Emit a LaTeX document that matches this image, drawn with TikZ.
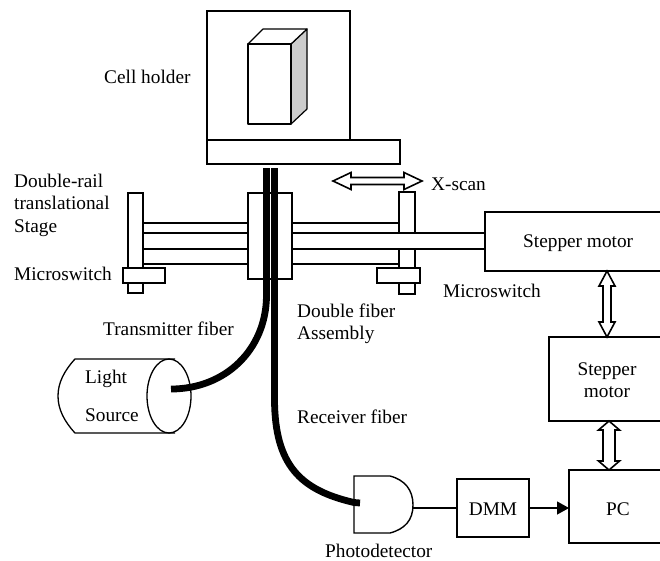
\documentclass[tikz,border=0pt]{standalone}
\usepackage{fontspec}
\setmainfont{Liberation Serif}
\usetikzlibrary{calc,arrows.meta}
\tikzset{
  box/.style={draw=black,fill=white,line width=1.5pt,inner sep=0pt,outer sep=0pt},
  lab/.style={anchor=base west,inner sep=0pt,font=\fontsize{19.3}{22}\selectfont},
  clab/.style={anchor=base,inner sep=0pt,font=\fontsize{19.3}{22}\selectfont,align=center},
  rail/.style={line width=1.4pt},
  fiber/.style={line width=6.8pt,line cap=butt},
  arw/.style={draw=black,fill=white,line width=1.6pt,line join=miter}
}
% box by corners (name, x1, y1, x2, y2)
\newcommand{\bx}[5]{\node[box,minimum width={(#4-#2)*1pt},minimum height={(#5-#3)*1pt}] (#1) at ({(#2+#4)/2},{(#3+#5)/2}) {};}
% vertical double arrow: from, to, half shaft, half head, head length
\newcommand{\vdarrow}[5]{\path[arw] let \p1=#1, \p2=#2 in
 (\x1,\y1) -- ({\x1+#4},{\y1-#5}) -- ({\x1+#3},{\y1-#5}) -- ({\x1+#3},{\y2+#5}) -- ({\x1+#4},{\y2+#5}) -- (\x2,\y2)
 -- ({\x1-#4},{\y2+#5}) -- ({\x1-#3},{\y2+#5}) -- ({\x1-#3},{\y1-#5}) -- ({\x1-#4},{\y1-#5}) -- cycle;}
\newcommand{\hdarrow}[5]{\path[arw] let \p1=#1, \p2=#2 in
 (\x1,\y1) -- ({\x1+#5},{\y1+#4}) -- ({\x1+#5},{\y1+#3}) -- ({\x2-#5},{\y1+#3}) -- ({\x2-#5},{\y1+#4}) -- (\x2,\y2)
 -- ({\x2-#5},{\y1-#4}) -- ({\x2-#5},{\y1-#3}) -- ({\x1+#5},{\y1-#3}) -- ({\x1+#5},{\y1-#4}) -- cycle;}
\begin{document}
\begin{tikzpicture}[x=1pt,y=-1pt]
\useasboundingbox (0,0) rectangle (660,560);
\clip (0,0) rectangle (660,560);
% cell holder
\bx{holder}{207}{11}{350}{140}
\bx{base}{207}{140}{400}{164}
\coordinate (fa) at (248,44); \coordinate (fb) at (291,44);
\coordinate (fc) at (291,124); \coordinate (fd) at (248,124);
\coordinate (ta) at (263,29); \coordinate (tb) at (307,29); \coordinate (tc) at (307,109);
\filldraw[fill=black!20,line width=1.2pt,line join=round] (fb) -- (tb) -- (tc) -- (fc) -- cycle;
\filldraw[fill=white,line width=1.2pt,line join=round] (fa) -- (ta) -- (tb) -- (fb) -- cycle;
\filldraw[fill=white,line width=1.5pt,line join=round] (fa) -- (fb) -- (fc) -- (fd) -- cycle;
% stage
\bx{lpost}{128}{193}{143}{293}
\bx{rpost}{399}{192}{415}{294}
\coordinate (blockE) at (292,236);
\coordinate (motorW) at (485,241);
\fill[white] (blockE |- 0,233) rectangle (motorW |- 0,249);
\draw[rail] (blockE |- 0,233) -- (motorW |- 0,233);
\draw[rail] (blockE |- 0,249) -- (motorW |- 0,249);
\bx{block}{248}{193}{292}{279}
\bx{motor}{485}{212}{670}{271}
\bx{lsw}{123}{268}{165}{283}
\bx{rsw}{377}{268}{420}{283}
\draw[rail] (lpost.east |- 0,223) -- (block.west |- 0,223);
\draw[rail] (lpost.east |- 0,233) -- (block.west |- 0,233);
\draw[rail] (lpost.east |- 0,249) -- (block.west |- 0,249);
\draw[rail] (lpost.east |- 0,264) -- (block.west |- 0,264);
\draw[rail] (block.east |- 0,223) -- (rpost.west |- 0,223);
\draw[rail] (block.east |- 0,264) -- (rpost.west |- 0,264);
% other blocks
\bx{stepper}{549}{337}{670}{421}
\bx{pc}{569}{470}{670}{543}
\bx{dmm}{457}{479}{529}{537}
% light source
\coordinate (srcT) at (175,359); \coordinate (srcB) at (175,433);
\draw[line width=1.3pt] (srcT) -- (75,359) .. controls (64,371) and (58,383) .. (58,396) .. controls (58,409) and (64,421) .. (75,433) -- (srcB);
\coordinate (src) at (169,396);
\draw[line width=1.3pt] (src) ellipse [x radius=22,y radius=37];
% photodetector
\coordinate (pdA) at (390,476); \coordinate (pdB) at (390,533);
\draw[line width=1.4pt,fill=white] (pdA) -- (354,476) -- (354,533) -- (pdB) .. controls (405,529) and (413,520) .. (413,505) .. controls (413,490) and (405,480) .. (pdA) -- cycle;
\coordinate (pdOut) at (413,508);
\coordinate (pdIn) at (360,503);
% fibers
\coordinate (fibT) at (266.5,168);
\coordinate (fibR) at (274.5,168);
\coordinate (srcEnd) at (171,389);
\draw[fiber] (fibT) -- (266.5,296) .. controls (266,350) and (225,389) .. (srcEnd);
\draw[fiber] (fibR) -- (274.5,400) .. controls (275,465) and (300,490) .. (354,502.5) -- (pdIn);
% connectors
\draw[line width=1.3pt] (pdOut) -- (dmm.west |- pdOut);
\draw[line width=1.3pt,-{Triangle[length=12pt,width=13pt]}] (dmm.east |- pdOut) -- (pc.west |- pdOut);
% double arrows
\hdarrow{(333,181)}{(422,181)}{3.5}{8.5}{18}
\vdarrow{(607,0 |- motor.south)}{(607,0 |- stepper.north)}{4}{8}{15}
\vdarrow{(609,0 |- stepper.south)}{(609,0 |- pc.north)}{6}{10.5}{9}
% labels
\node[lab] (t1) at (104,83) {Cell holder};
\node[lab] (t2) at (14,187) {Double-rail};
\node[lab] (t3) at (14,209) {translational};
\node[lab] (t4) at (14,232) {Stage};
\node[lab] (t5) at (14,280) {Microswitch};
\node[lab] (t6) at (431,190) {X-scan};
\node[lab] (t7) at (523,247) {Stepper motor};
\node[lab] (t8) at (443,297) {Microswitch};
\node[lab] (t9) at (297,317) {Double fiber};
\node[lab] (t10) at (297,339) {Assembly};
\node[lab] (t11) at (103,335) {Transmitter fiber};
\node[lab] (t12) at (85,383) {Light};
\node[lab] (t13) at (85,421) {Source};
\node[lab] (t14) at (297,423) {Receiver fiber};
\node[lab] (t15) at (325,557) {Photodetector};
\node[clab] (t16) at (493,515) {DMM};
\node[clab] (t17) at (618,515) {PC};
\node[clab] (t18) at (607,375) {Stepper};
\node[clab] (t19) at (607,397) {motor};
\end{tikzpicture}
\end{document}
